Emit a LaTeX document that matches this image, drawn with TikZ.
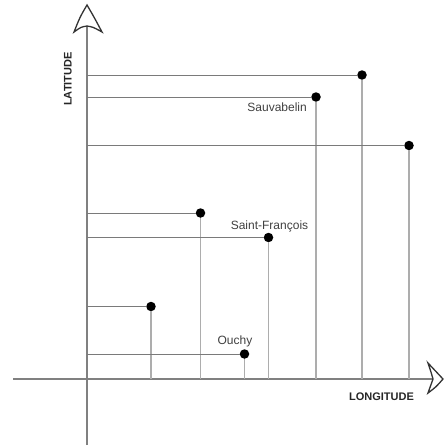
\documentclass[tikz,border=0pt]{standalone}
\usepackage{fontspec}
\setmainfont{Liberation Sans}
\begin{document}
\begin{tikzpicture}[x=1pt,y=-1pt,
  axisline/.style={draw=black!50,line width=2pt},
  latline/.style={draw=black!52,line width=1pt},
  lonline/.style={draw=black!32,line width=1.5pt},
  arrowhd/.style={draw=black!80,line width=1.3pt,fill=white,line join=miter},
  dot/.style={circle,fill=black,inner sep=0pt,minimum size=9.5pt},
  place/.style={font=\fontsize{12}{14}\selectfont,text=black!75,inner sep=0pt},
  axlabel/.style={font=\fontsize{11}{13}\selectfont\bfseries,text=black!85,inner sep=0pt}]
\useasboundingbox (0,0) rectangle (447,445);

% axes
\coordinate (ybot) at (87,445);
\coordinate (ytop) at (87,26);
\coordinate (xleft) at (13,379);
\coordinate (xright) at (433,379);
\draw[axisline] (ybot) -- (ytop);
\draw[axisline] (xleft) -- (xright);

% open arrowheads
\draw[arrowhd] (87,5) .. controls (80,17) .. (74,32) .. controls (81,27) .. (87,26)
  .. controls (93,27) .. (102,32) .. controls (94,17) .. cycle;
\draw[arrowhd] (443,379) .. controls (436,371) .. (428,363) .. controls (431,372) .. (433,379)
  .. controls (431,386) .. (428,393) .. controls (436,387) .. cycle;

% points
\node[dot] (p1) at (362,75) {};
\node[dot] (p2) at (316,97) {};
\node[dot] (p3) at (409,145.5) {};
\node[dot] (p4) at (200.5,213) {};
\node[dot] (p5) at (268.5,237.5) {};
\node[dot] (p6) at (151,306.5) {};
\node[dot] (p7) at (244.5,354) {};

\foreach \p in {p1,p2,p3,p4,p5,p6,p7}{
  \draw[latline] (ytop |- \p) -- (\p);
  \draw[lonline] (\p) -- (\p |- xleft);
}

% labels
\node[place,anchor=east] (sauv) at (307,107) {Sauvabelin};
\node[place] (stf) at (269.5,226) {Saint-François};
\node[place] (ouchy) at (235,341) {Ouchy};
\node[axlabel,rotate=90] (lat) at (68,79) {LATITUDE};
\node[axlabel] (lon) at (381.5,397) {LONGITUDE};
\end{tikzpicture}
\end{document}
